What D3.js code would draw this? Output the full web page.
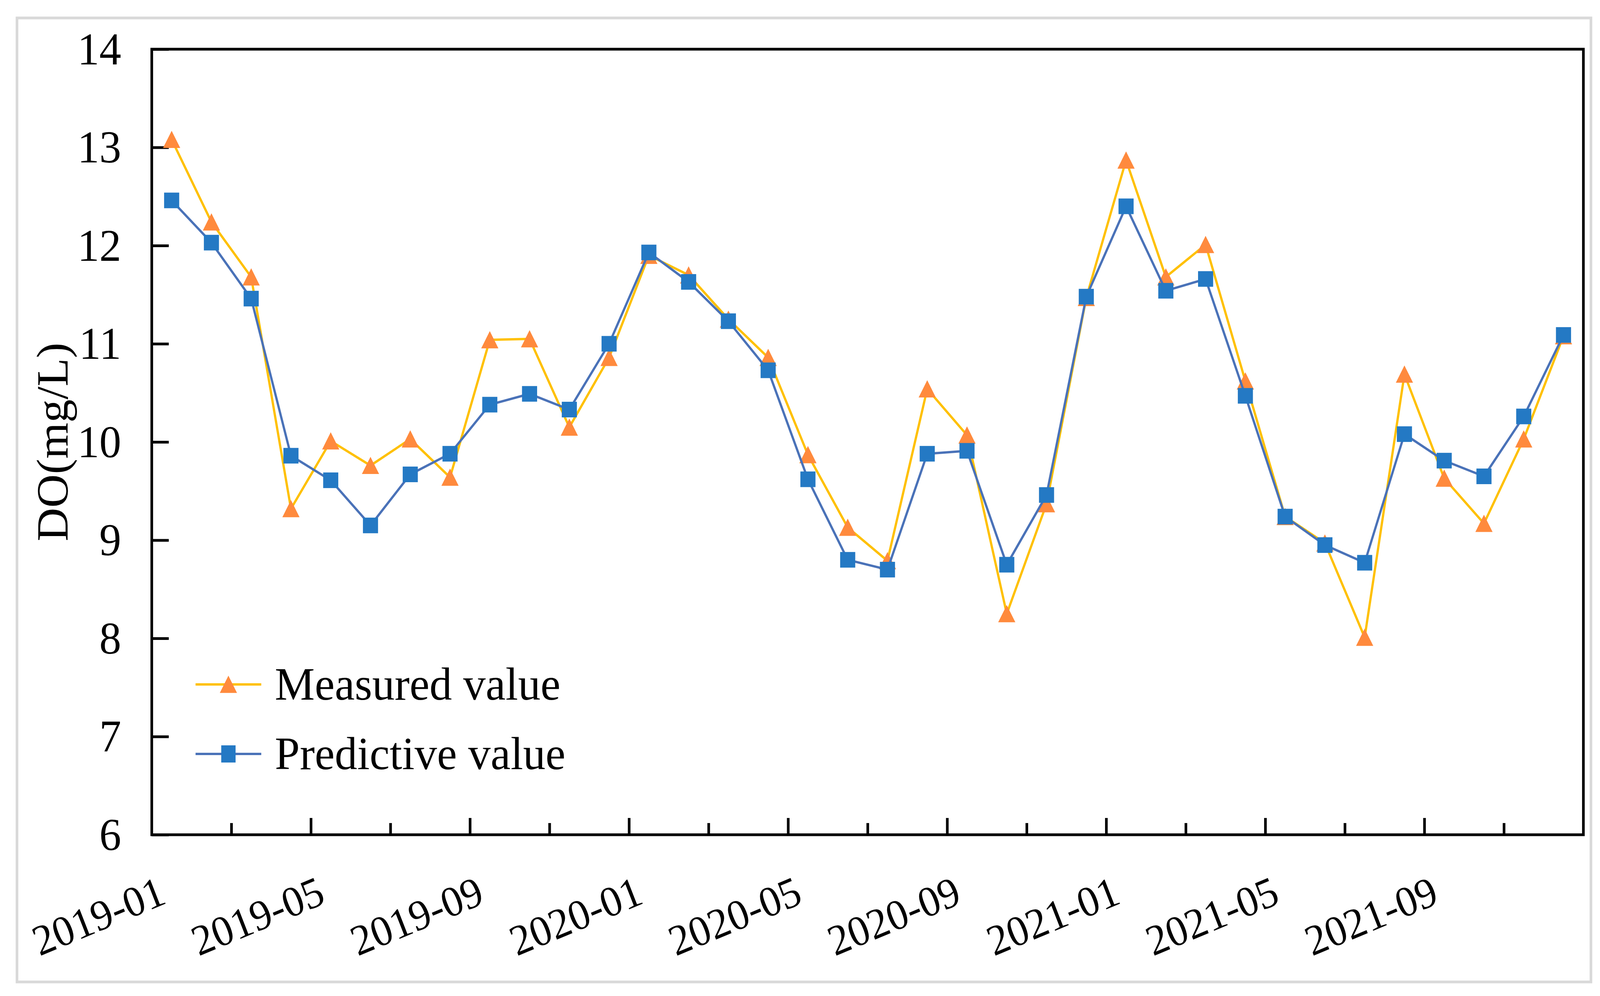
<!DOCTYPE html>
<html>
<head>
<meta charset="utf-8">
<script src="https://cdn.jsdelivr.net/npm/d3@7"></script>
<style>
  html, body { margin: 0; padding: 0; background: #ffffff; overflow: hidden; width: 100%; height: 100%; }
  svg { display: block; width: 100vw; height: 100vh; }
  text { font-family: "Liberation Serif", "Times New Roman", serif; fill: #000; }
</style>
</head>
<body>
<svg id="chart" viewBox="0 0 4238 2551" preserveAspectRatio="none"></svg>
<script>
const months = [
  "2019-01","2019-02","2019-03","2019-04","2019-05","2019-06","2019-07","2019-08","2019-09","2019-10","2019-11","2019-12",
  "2020-01","2020-02","2020-03","2020-04","2020-05","2020-06","2020-07","2020-08","2020-09","2020-10","2020-11","2020-12",
  "2021-01","2021-02","2021-03","2021-04","2021-05","2021-06","2021-07","2021-08","2021-09","2021-10","2021-11","2021-12"
];
const measured = [
  13.08, 12.24, 11.68, 9.32, 10.01, 9.76, 10.03, 9.64, 11.04, 11.05, 10.15, 10.86,
  11.90, 11.70, 11.25, 10.86, 9.87, 9.13, 8.79, 10.54, 10.07, 8.25, 9.37, 11.47,
  12.87, 11.68, 12.01, 10.62, 9.24, 8.97, 8.01, 10.69, 9.63, 9.17, 10.03, 11.08
];
const predictive = [
  12.46, 12.03, 11.46, 9.86, 9.61, 9.15, 9.67, 9.88, 10.38, 10.49, 10.33, 11.00,
  11.93, 11.63, 11.23, 10.73, 9.62, 8.80, 8.70, 9.88, 9.91, 8.75, 9.46, 11.48,
  12.40, 11.54, 11.66, 10.47, 9.24, 8.95, 8.77, 10.08, 9.81, 9.65, 10.26, 11.09
];
const xTickLabels = ["2019-01","2019-05","2019-09","2020-01","2020-05","2020-09","2021-01","2021-05","2021-09"];
const yTicks = [6, 7, 8, 9, 10, 11, 12, 13, 14];
const seriesNames = ["Measured value", "Predictive value"];

const FS = 116, FSX = 110, FSL = 119;
const L = 402, R = 4194, T = 126, B = 2138;

const svg = d3.select("#chart");

// outer gray border
svg.append("rect")
  .attr("x", 45).attr("y", 46).attr("width", 4214 - 45).attr("height", 2515 - 46)
  .attr("fill", "#ffffff").attr("stroke", "#d9d9d9").attr("stroke-width", 7);

const x = d3.scaleBand().domain(months).range([L, R]).paddingInner(0).paddingOuter(0);
const xc = d => x(d) + x.bandwidth() / 2;
const xi = d3.scaleLinear().domain([0, months.length]).range([L, R]);
const y = d3.scaleLinear().domain([6, 14]).range([B, T]);

// Y axis ticks (inward) and labels
const yAxis = d3.axisLeft(y).tickValues(yTicks).tickSize(-45).tickPadding(81).tickFormat(d3.format("d"));
const gy = svg.append("g").attr("transform", `translate(${L},0)`).call(yAxis);
gy.select(".domain").remove();
gy.selectAll(".tick line").attr("stroke", "#000").attr("stroke-width", 7);
gy.selectAll(".tick text")
  .attr("font-size", FS).attr("font-family", "Liberation Serif, Times New Roman, serif")
  .attr("fill", "#000").attr("dy", "0.33em");

// X axis ticks (inward), major every 4, minor every 2
const majorIdx = d3.range(4, months.length, 4);
const minorIdx = d3.range(2, months.length, 4);
const gxMaj = svg.append("g").attr("transform", `translate(0,${B})`)
  .call(d3.axisBottom(xi).tickValues(majorIdx).tickSize(-43).tickFormat(""));
const gxMin = svg.append("g").attr("transform", `translate(0,${B})`)
  .call(d3.axisBottom(xi).tickValues(minorIdx).tickSize(-30).tickFormat(""));
[gxMaj, gxMin].forEach(g => {
  g.select(".domain").remove();
  g.selectAll(".tick line").attr("stroke", "#000").attr("stroke-width", 7);
});

// X labels rotated
svg.append("g").selectAll("text").data(xTickLabels).join("text")
  .attr("text-anchor", "end")
  .attr("font-size", FSX)
  .attr("transform", d => `translate(${xc(d) - 10},2312) rotate(-22)`)
  .text(d => d);

// Plot frame
svg.append("rect")
  .attr("x", L).attr("y", T).attr("width", R - L).attr("height", B - T)
  .attr("fill", "none").attr("stroke", "#000").attr("stroke-width", 7);

// Y axis title
svg.append("text")
  .attr("text-anchor", "middle")
  .attr("font-size", FSL)
  .attr("transform", `translate(179,${(T + B) / 2}) rotate(-90)`)
  .text("DO(mg/L)");

const colors = {
  mLine: "#FFC000", mMark: "#FF8A3D",
  pLine: "#4A72B8", pMark: "#2479C4"
};
const tri = d3.symbol().type(d3.symbolTriangle).size(900);
const line = d3.line().x((d, i) => xc(months[i])).y(d => y(d));

// Measured series
svg.append("path").datum(measured)
  .attr("d", line).attr("fill", "none").attr("stroke", colors.mLine).attr("stroke-width", 6)
  .attr("stroke-linejoin", "round");
svg.append("g").selectAll("path").data(measured).join("path")
  .attr("d", tri)
  .attr("transform", (d, i) => `translate(${xc(months[i])},${y(d) + 7}) scale(1.0,1.12)`)
  .attr("fill", colors.mMark);

// Predictive series
svg.append("path").datum(predictive)
  .attr("d", line).attr("fill", "none").attr("stroke", colors.pLine).attr("stroke-width", 6)
  .attr("stroke-linejoin", "round");
svg.append("g").selectAll("rect").data(predictive).join("rect")
  .attr("x", (d, i) => xc(months[i]) - 20).attr("y", d => y(d) - 20)
  .attr("width", 40).attr("height", 40)
  .attr("fill", colors.pMark);

// Legend
const legendY = [1753, 1931];
const lg = svg.append("g");
seriesNames.forEach((name, k) => {
  const ly = legendY[k];
  lg.append("line").attr("x1", 518).attr("x2", 692).attr("y1", ly).attr("y2", ly)
    .attr("stroke", k === 0 ? colors.mLine : colors.pLine).attr("stroke-width", 6);
  if (k === 0) {
    lg.append("path").attr("d", tri)
      .attr("transform", `translate(605,${ly + 7}) scale(1.0,1.12)`).attr("fill", colors.mMark);
  } else {
    lg.append("rect").attr("x", 586).attr("y", ly - 22).attr("width", 38).attr("height", 44)
      .attr("fill", colors.pMark);
  }
  lg.append("text").attr("x", 728).attr("y", ly + 39).attr("font-size", FSL).text(name);
});
</script>
</body>
</html>
